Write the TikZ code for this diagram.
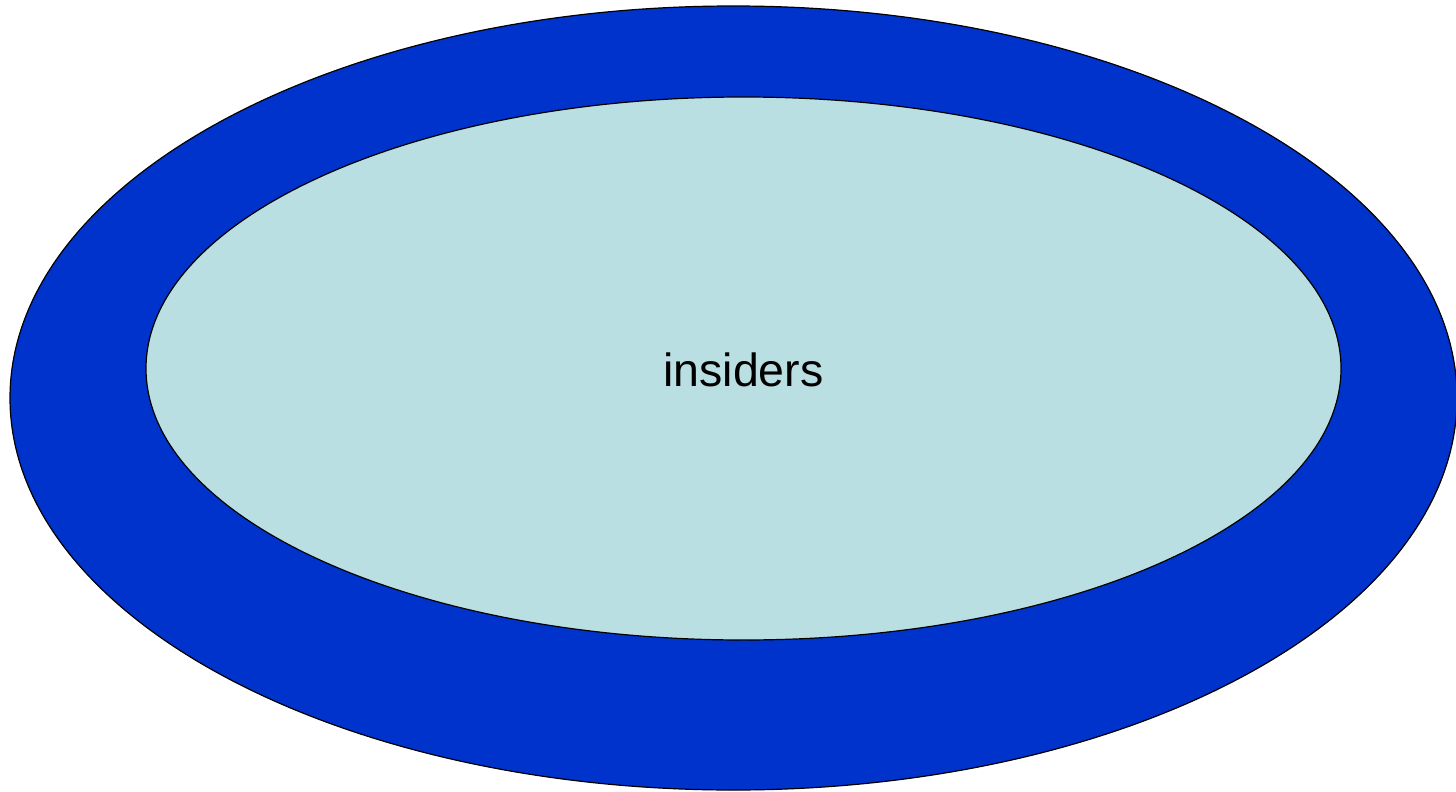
\documentclass[tikz,border=0pt]{standalone}
\usepackage{fontspec}
\setmainfont{Liberation Sans}
\definecolor{outerblue}{HTML}{0033CC}
\definecolor{innercyan}{HTML}{B9DFE3}
\begin{document}
\begin{tikzpicture}[x=1pt,y=-1pt,
  ring/.style={draw=black,line width=1.2pt}]
\useasboundingbox (0,0) rectangle (1456,792);
\path[ring,fill=outerblue] (733.5,398) ellipse [x radius=723.5,y radius=392];
\path[ring,fill=innercyan] (743.5,368.5) ellipse [x radius=597.5,y radius=271.5];
\node[anchor=base,inner sep=0pt,font=\fontsize{46.5}{50}\selectfont] (lbl) at (743.5,386) {insiders};
\end{tikzpicture}
\end{document}
